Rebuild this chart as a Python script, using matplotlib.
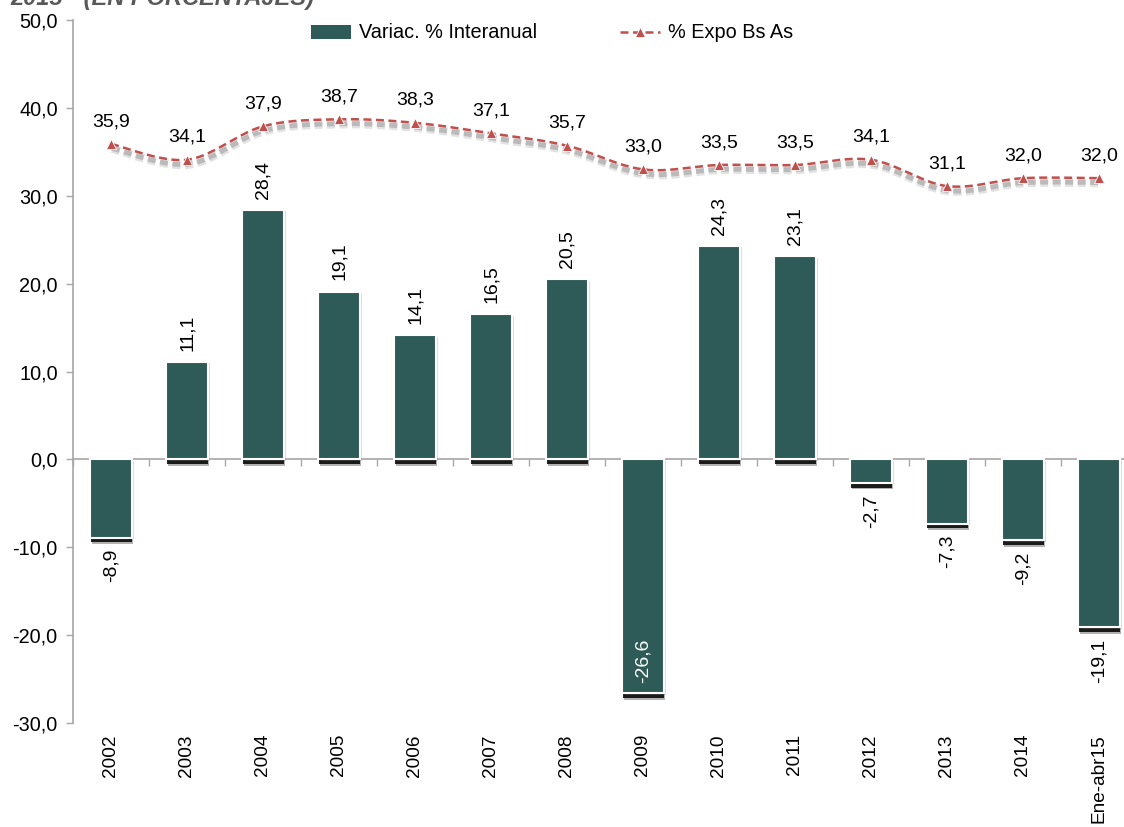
import numpy as np
import matplotlib
matplotlib.use('Agg')
import matplotlib.pyplot as plt
from matplotlib import patheffects as pe
from matplotlib.patches import Patch
from matplotlib.lines import Line2D
from matplotlib.ticker import FuncFormatter

categories = ['2002', '2003', '2004', '2005', '2006', '2007', '2008', '2009',
              '2010', '2011', '2012', '2013', '2014', 'Ene-abr15']
variacion = [-8.9, 11.1, 28.4, 19.1, 14.1, 16.5, 20.5, -26.6, 24.3, 23.1, -2.7, -7.3, -9.2, -19.1]
expo = [35.9, 34.1, 37.9, 38.7, 38.3, 37.1, 35.7, 33.0, 33.5, 33.5, 34.1, 31.1, 32.0, 32.0]
yticks = [-30, -20, -10, 0, 10, 20, 30, 40, 50]
legend_labels = ['Variac. % Interanual', '% Expo Bs As']
title_text = '2015 - (EN PORCENTAJES)'

BAR_COLOR = '#2E5B58'
LINE_COLOR = '#C0504D'
AXIS_COLOR = '#A6A6A6'
FS = 14.3
FS_LAB = 14

plt.rcParams['font.family'] = ['Liberation Sans', 'DejaVu Sans']

W, H = 1124, 827
fig = plt.figure(figsize=(W / 100, H / 100), dpi=100)
ax = fig.add_axes([73 / W, 1 - 723 / H, 1064 / W, 703 / H])

x = np.arange(len(categories))

bars = ax.bar(x, variacion, width=0.54, color=BAR_COLOR, edgecolor='white',
              linewidth=1.5, zorder=3)
for b in bars:
    b.set_path_effects([
        pe.SimplePatchShadow(offset=(1.0, -4.6), shadow_rgbFace='black', alpha=0.3),
        pe.SimplePatchShadow(offset=(0.6, -3.4), shadow_rgbFace='black', alpha=0.85),
        pe.SimplePatchShadow(offset=(1.5, -1.0), shadow_rgbFace='#777777', alpha=0.25),
        pe.Normal()])


def smooth(xs, ys, n=24):
    pts = np.column_stack([xs, ys]).astype(float)
    P = np.vstack([pts[0], pts, pts[-1]])
    out = []
    for i in range(1, len(P) - 2):
        p0, p1, p2, p3 = P[i - 1], P[i], P[i + 1], P[i + 2]
        t = np.linspace(0, 1, n, endpoint=False)[:, None]
        c1 = p1 + (p2 - p0) / 6
        c2 = p2 - (p3 - p1) / 6
        seg = (1 - t) ** 3 * p1 + 3 * (1 - t) ** 2 * t * c1 + 3 * (1 - t) * t ** 2 * c2 + t ** 3 * p2
        out.append(seg)
    out.append(pts[-1:])
    return np.vstack(out)


curve = smooth(x, expo)
ax.plot(curve[:, 0], curve[:, 1], color=LINE_COLOR, ls=(0, (3.2, 1.8)), lw=1.8, zorder=5,
        path_effects=[pe.SimpleLineShadow(offset=(0.8, -3.6), shadow_color='#8c8c8c', alpha=0.25, linewidth=6),
                      pe.SimpleLineShadow(offset=(0.6, -3.2), shadow_color='#7f7f7f', alpha=0.4, linewidth=3.5),
                      pe.Normal()])
ax.plot(x, expo, ls='none', marker='^', ms=7, color=LINE_COLOR, mec='white', mew=0.6, zorder=6)

# line labels
for xi, v in zip(x, expo):
    ax.annotate(f"{v:.1f}".replace('.', ','), (xi, v), xytext=(0, 10), textcoords='offset points',
                ha='center', va='bottom', fontsize=FS_LAB, zorder=7)

# bar labels
for xi, v in zip(x, variacion):
    lab = f"{v:.1f}".replace('.', ',')
    if v < -20:
        ax.annotate(lab, (xi, v), xytext=(0, 7), textcoords='offset points', rotation=90,
                    ha='center', va='bottom', fontsize=FS_LAB, color='white', zorder=7)
    elif v >= 0:
        ax.annotate(lab, (xi, v), xytext=(0, 8), textcoords='offset points', rotation=90,
                    ha='center', va='bottom', fontsize=FS_LAB, zorder=7)
    else:
        ax.annotate(lab, (xi, v), xytext=(0, -8), textcoords='offset points', rotation=90,
                    ha='center', va='top', fontsize=FS_LAB, zorder=7)

ax.set_xlim(-0.5, len(categories) - 0.5)
ax.set_ylim(-30, 50)
ax.set_yticks(yticks)
ax.yaxis.set_major_formatter(FuncFormatter(lambda v, p: f"{v:.1f}".replace('.', ',')))
ax.tick_params(axis='y', length=5, color=AXIS_COLOR, width=1, labelsize=FS, pad=6)
ax.set_xticks(x)
ax.set_xticklabels(categories, rotation=90)
ax.tick_params(axis='x', length=0, labelsize=13.7, pad=8)
for s in ['top', 'right', 'bottom']:
    ax.spines[s].set_visible(False)
ax.spines['left'].set_color(AXIS_COLOR)
ax.spines['left'].set_linewidth(1.2)

sec = ax.secondary_xaxis(30 / 80)
sec.set_xticks(np.arange(-0.5, len(categories), 1.0))
sec.tick_params(length=5, color=AXIS_COLOR, width=1, labelbottom=False)
sec.spines['bottom'].set_color(AXIS_COLOR)
sec.spines['bottom'].set_linewidth(1.2)

handles = [Patch(facecolor=BAR_COLOR, edgecolor='none'),
           Line2D([], [], color=LINE_COLOR, ls=(0, (3.2, 1.8)), lw=1.8, marker='^', ms=7,
                  mec='white', mew=0.6)]
fig.legend(handles, legend_labels, ncol=2, loc='center', bbox_to_anchor=(0.491, 1 - 33 / H),
           frameon=False, fontsize=FS, handlelength=2.0, columnspacing=4.2, handletextpad=0.4)

fig.text(10 / W, 1 - 5 / H, title_text, fontsize=17, fontweight='bold', fontstyle='italic',
         color='#595959', ha='left', va='baseline')

fig.savefig('out.png', dpi=100)
